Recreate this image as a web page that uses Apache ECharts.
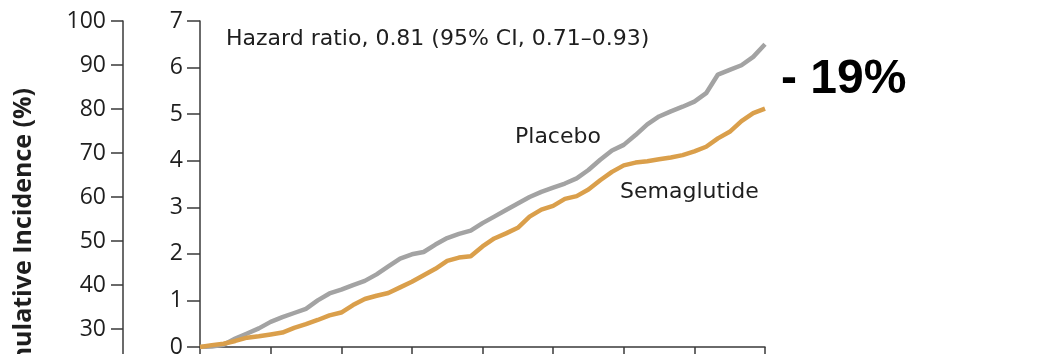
<!DOCTYPE html>
<html>
<head>
<meta charset="utf-8">
<style>
  html, body { margin: 0; padding: 0; background: #fff; }
  #chart { width: 1038px; height: 354px; }
</style>
<script src="https://cdn.jsdelivr.net/npm/echarts@6/dist/echarts.min.js"></script>
</head>
<body>
<div id="chart"></div>
<script>
// Months since randomization (one point per month)
const months = [
  0, 1, 2, 3, 4, 5, 6, 7, 8, 9, 10, 11, 12, 13, 14, 15, 16, 17, 18, 19, 20, 21, 22, 23, 24,
  25, 26, 27, 28, 29, 30, 31, 32, 33, 34, 35, 36, 37, 38, 39, 40, 41, 42, 43, 44, 45, 46, 47, 48
];

// Cumulative incidence (%) of the primary outcome
const placebo = [
  0, 0.01, 0.05, 0.18, 0.29, 0.40, 0.54, 0.64, 0.73, 0.82, 1.00, 1.15, 1.23, 1.33, 1.42, 1.56, 1.73,
  1.90, 1.99, 2.04, 2.20, 2.34, 2.43, 2.50, 2.66, 2.80, 2.94, 3.08, 3.22, 3.33, 3.42, 3.51, 3.62,
  3.80, 4.02, 4.22, 4.34, 4.55, 4.78, 4.95, 5.06, 5.16, 5.27, 5.45, 5.85, 5.95, 6.05, 6.23, 6.50
];
const semaglutide = [
  0, 0.04, 0.07, 0.13, 0.20, 0.23, 0.27, 0.31, 0.41, 0.49, 0.58, 0.68, 0.74, 0.90, 1.03, 1.10, 1.16,
  1.28, 1.40, 1.54, 1.68, 1.85, 1.92, 1.95, 2.16, 2.33, 2.44, 2.56, 2.80, 2.95, 3.03, 3.18, 3.24,
  3.38, 3.58, 3.76, 3.90, 3.96, 3.99, 4.03, 4.07, 4.12, 4.20, 4.30, 4.48, 4.62, 4.85, 5.02, 5.12
];

// Axis ranges / tick steps
const innerTicks = { min: 0, max: 7, step: 1 };
const outerTicks = { min: 20, max: 100, step: 10 };
const monthTicks = { min: 0, max: 48, step: 6 };

const hazardText = 'Hazard ratio, 0.81 (95% CI, 0.71\u20130.93)';
const reductionText = '- 19%';
const yTitle = 'Cumulative Incidence (%)';

const axisColor = '#3a3a3a';
const textColor = '#1e1e1e';
const tickFont = '"Open Sans", "Noto Sans", sans-serif';
const labelFont = '"DejaVu Sans", "Open Sans", sans-serif';

const pair = (xs, ys) => xs.map((x, i) => [x, ys[i]]);

const chart = echarts.init(document.getElementById('chart'), null, { renderer: 'canvas' });

chart.setOption({
  backgroundColor: '#ffffff',
  animation: false,
  grid: [
    // inset plot (0–7 %)
    { left: 200, right: 273, top: 21, bottom: 7, outerBoundsMode: 'none', containLabel: false },
    // full-scale axis (0–100 %), extends below the visible area
    { left: 123, width: 10, top: 21, height: 352, outerBoundsMode: 'none', containLabel: false }
  ],
  xAxis: [
    {
      gridIndex: 0, type: 'value',
      min: monthTicks.min, max: monthTicks.max, interval: monthTicks.step,
      axisLine: { lineStyle: { color: axisColor, width: 1.5 } },
      axisTick: { inside: false, length: 12, lineStyle: { color: axisColor, width: 1.5 } },
      axisLabel: { show: false },
      splitLine: { show: false }
    },
    {
      gridIndex: 1, type: 'value', min: 0, max: 1, show: false
    }
  ],
  yAxis: [
    {
      gridIndex: 0, type: 'value',
      min: innerTicks.min, max: innerTicks.max, interval: innerTicks.step,
      axisLine: { show: true, lineStyle: { color: axisColor, width: 1.5 } },
      axisTick: { show: true, length: 13, lineStyle: { color: axisColor, width: 1.5 } },
      axisLabel: { color: textColor, fontFamily: tickFont, fontSize: 23, margin: 17 },
      splitLine: { show: false }
    },
    {
      gridIndex: 1, type: 'value',
      min: outerTicks.min, max: outerTicks.max, interval: outerTicks.step,
      axisLine: { show: true, lineStyle: { color: axisColor, width: 1.5 } },
      axisTick: { show: true, length: 12, lineStyle: { color: axisColor, width: 1.5 } },
      axisLabel: { color: textColor, fontFamily: tickFont, fontSize: 23, margin: 17 },
      splitLine: { show: false }
    }
  ],
  series: [
    {
      name: 'Placebo', type: 'line', xAxisIndex: 0, yAxisIndex: 0,
      data: pair(months, placebo), showSymbol: false, symbol: 'none',
      lineStyle: { color: '#a3a3a3', width: 4.5 }, z: 3
    },
    {
      name: 'Semaglutide', type: 'line', xAxisIndex: 0, yAxisIndex: 0,
      data: pair(months, semaglutide), showSymbol: false, symbol: 'none',
      lineStyle: { color: '#da9f4b', width: 4.5 }, z: 4
    }
  ],
  graphic: [
    {
      type: 'text', x: 226, y: 39,
      style: { text: hazardText, fill: textColor, font: '22px ' + labelFont, textVerticalAlign: 'middle' }
    },
    {
      type: 'text', x: 515, y: 137,
      style: { text: 'Placebo', fill: textColor, font: '22px ' + labelFont, textVerticalAlign: 'middle' }
    },
    {
      type: 'text', x: 620, y: 192,
      style: { text: 'Semaglutide', fill: textColor, font: '22px ' + labelFont, textVerticalAlign: 'middle' }
    },
    {
      type: 'text', x: 781, y: 80,
      style: {
        text: reductionText, fill: '#000000', textVerticalAlign: 'middle',
        font: 'bold 48px "Liberation Sans", Arial, sans-serif'
      }
    },
    {
      type: 'text', x: 24, y: 88, rotation: Math.PI / 2,
      style: {
        text: yTitle, fill: textColor, font: 'bold 25px ' + tickFont,
        textAlign: 'right', textVerticalAlign: 'middle'
      }
    }
  ]
});
</script>
</body>
</html>
